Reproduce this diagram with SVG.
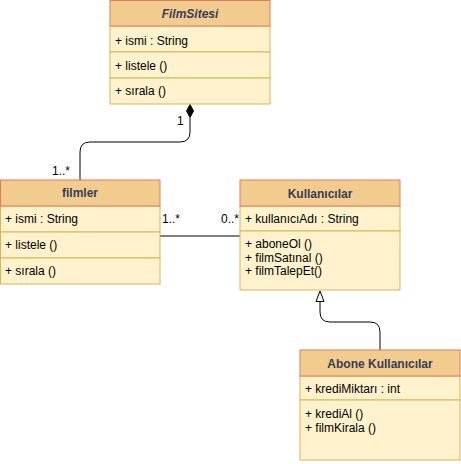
<svg xmlns="http://www.w3.org/2000/svg" width="461" height="464" viewBox="0 0 461 464">
<defs>
<style>
text{font-family:"Liberation Sans",Arial,sans-serif;font-size:12px;fill:#000}
.hd{fill:#F2CC8F;stroke:#E07A5F;stroke-width:1}
.bd{fill:#FFF2CC;stroke:#D6B656;stroke-width:1}
.ht{font-weight:bold;fill:#393C56;text-anchor:middle}
.ln{fill:none;stroke:#000;stroke-width:1}
</style>
<marker id="diamond" viewBox="0 0 14 8" refX="0" refY="4" markerWidth="14" markerHeight="8" orient="auto" markerUnits="userSpaceOnUse">
<path d="M0,4 L7,0.5 L14,4 L7,7.5 Z" fill="#000" stroke="#000" stroke-width="1"/>
</marker>
<marker id="tri" viewBox="0 0 13 10" refX="0" refY="5" markerWidth="13" markerHeight="10" orient="auto" markerUnits="userSpaceOnUse">
<path d="M0,5 L11,1 L11,9 Z" fill="#fff" stroke="#000" stroke-width="1"/>
</marker>
</defs>
<rect width="461" height="464" fill="#fff"/>
<g id="connectors">
<path class="ln" d="M80,180 V152 Q80,142 90,142 H180 Q190,142 190,132 V118" />
<path d="M190,104.5 L193.5,111 L190,117.5 L186.5,111 Z" fill="#000" stroke="#000"/>
<text x="177" y="125">1</text>
<text x="52" y="175">1..*</text>
<path class="ln" d="M160,236 H240"/>
<text x="162" y="223">1..*</text>
<text x="221" y="223">0..*</text>
<path class="ln" d="M380,350 V332 Q380,322 370,322 H330 Q320,322 320,312 V302"/>
<path d="M320,291 L324,301.5 L316,301.5 Z" fill="#fff" stroke="#000"/>
</g>
<g id="FilmSitesi">
<rect class="bd" x="110" y="26" width="160" height="26"/>
<rect class="bd" x="110" y="52" width="160" height="26"/>
<rect class="bd" x="110" y="78" width="160" height="26"/>
<rect class="hd" x="110" y="0.5" width="160" height="25.5"/>
<text class="ht" x="190" y="18" font-style="italic">FilmSitesi</text>
<text x="115" y="45">+ ismi : String</text>
<text x="115" y="70">+ listele ()</text>
<text x="115" y="95">+ sırala ()</text>
</g>
<g id="filmler">
<rect class="bd" x="0.5" y="206" width="159.5" height="26"/>
<rect class="bd" x="0.5" y="232" width="159.5" height="26"/>
<rect class="bd" x="0.5" y="258" width="159.5" height="26"/>
<rect class="hd" x="0.5" y="180" width="159.5" height="26"/>
<text class="ht" x="80" y="197">filmler</text>
<text x="5" y="223">+ ismi : String</text>
<text x="5" y="249">+ listele ()</text>
<text x="5" y="275">+ sırala ()</text>
</g>
<g id="Kullanicilar">
<rect class="bd" x="240" y="206" width="160" height="25"/>
<rect class="bd" x="240" y="231" width="160" height="59"/>
<rect class="hd" x="240" y="180" width="160" height="26"/>
<text class="ht" x="320" y="198">Kullanıcılar</text>
<text x="245" y="223">+ kullanıcıAdı : String</text>
<text x="245" y="248">+ aboneOl ()</text>
<text x="245" y="261.5">+ filmSatınal ()</text>
<text x="245" y="275">+ filmTalepEt()</text>
</g>
<g id="AboneKullanicilar">
<rect class="bd" x="300" y="376" width="160" height="24"/>
<rect class="bd" x="300" y="400" width="160" height="60"/>
<rect class="hd" x="300" y="350" width="160" height="26"/>
<text class="ht" x="380" y="368">Abone Kullanıcılar</text>
<text x="305" y="393">+ krediMiktarı : int</text>
<text x="305" y="418">+ krediAl ()</text>
<text x="305" y="431.5">+ filmKirala ()</text>
</g>
</svg>
